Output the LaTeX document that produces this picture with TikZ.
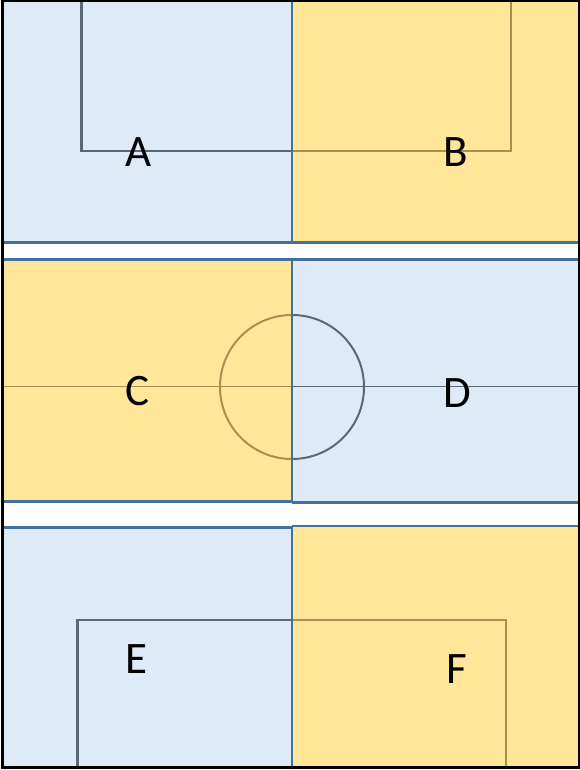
\documentclass[tikz,border=0pt]{standalone}
\usepackage{fontspec}
\setmainfont{Carlito}
\definecolor{bluefill}{RGB}{222,235,247}
\definecolor{yellowfill}{RGB}{255,230,153}
\definecolor{edgeblue}{RGB}{65,113,156}
\definecolor{graylinec}{RGB}{91,103,118}
\definecolor{olivelinec}{RGB}{168,145,80}
\tikzset{
  bluebox/.style={fill=bluefill},
  yellowbox/.style={fill=yellowfill},
  boxedge/.style={draw=edgeblue, line width=2.5pt},
  grayline/.style={draw=graylinec, line width=2.4pt},
  oliveline/.style={draw=olivelinec, line width=2.4pt},
  thingray/.style={draw=graylinec, line width=1pt},
  thinolive/.style={draw=olivelinec, line width=1pt},
  letter/.style={font=\fontsize{45}{45}\selectfont, anchor=base, inner sep=0pt}
}
\begin{document}
\begin{tikzpicture}[x=1pt,y=-1pt]
\useasboundingbox (0,0) rectangle (580,770);
% fills
\fill[bluebox] (2,0) rectangle (292,242.5);
\fill[yellowbox] (292,0) rectangle (579,242.5);
\fill[yellowbox] (2,259.5) rectangle (292,501.5);
\fill[bluebox] (292,259.5) rectangle (579,502.5);
\fill[bluebox] (2,527.5) rectangle (292,768);
\fill[yellowbox] (292,526) rectangle (579,768);
% inner top rectangle
\draw[grayline] (81.5,0) -- (81.5,151) -- (292,151);
\draw[oliveline] (292,151) -- (511,151) -- (511,0);
% middle line and circle
\draw[thinolive] (2,386.8) -- (292,386.8);
\draw[thingray] (292,386.8) -- (579,386.8);
\draw[oliveline, line width=2pt] (292,459) arc[start angle=90, end angle=270, radius=72];
\draw[grayline, line width=2pt] (292,459) arc[start angle=90, end angle=-90, radius=72];
% inner bottom rectangle
\draw[grayline] (77.5,768) -- (77.5,620) -- (292,620);
\draw[oliveline] (292,620) -- (506,620) -- (506,768);
% box edges
\draw[boxedge] (2,242.5) -- (579,242.5);
\draw[boxedge] (292,0) -- (292,242.5);
\draw[boxedge] (2,259.5) -- (579,259.5);
\draw[boxedge] (2,501.5) -- (292,501.5);
\draw[boxedge] (292,502.5) -- (579,502.5);
\draw[boxedge] (292,259.5) -- (292,502.5);
\draw[boxedge] (2,527.5) -- (292,527.5);
\draw[boxedge] (292,526) -- (579,526);
\draw[boxedge] (292,526) -- (292,768);
% outer frame
\draw[black, line width=3pt] (2.5,0.5) rectangle (579,767.5);
% letters
\node[letter] (A) at (138.5,167) {A};
\node[letter] (B) at (456,167) {B};
\node[letter] (C) at (137,405) {C};
\node[letter] (D) at (457,407) {D};
\node[letter] (E) at (136,673) {E};
\node[letter] (F) at (457,683) {F};
\end{tikzpicture}
\end{document}
